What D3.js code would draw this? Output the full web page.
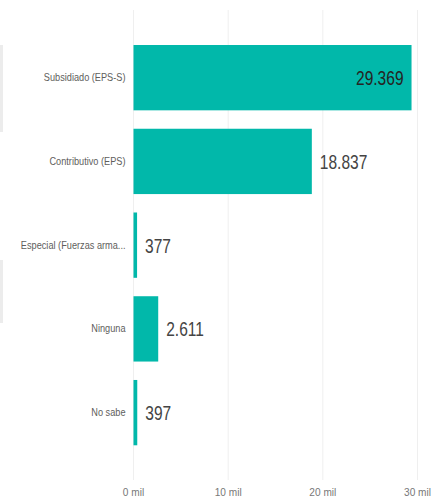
<!DOCTYPE html>
<meta charset="utf-8">
<style>
body { margin: 0; background: #fff; }
text { font-family: "Liberation Sans", Arial, sans-serif; }
</style>
<body>
<script src="https://cdn.jsdelivr.net/npm/d3@7"></script>
<script>

let categories = ['Subsidiado (EPS-S)', 'Contributivo (EPS)', 'Especial (Fuerzas arma...', 'Ninguna', 'No sabe'];
let values = [29369, 18837, 377, 2611, 397];
let ticks = [0, 10000, 20000, 30000];
let tickLabels = ['0 mil', '10 mil', '20 mil', '30 mil'];

let width = 432;
let height = 499;

let svg = d3.select('body').append('svg')
	.attr('width', width)
	.attr('height', height);

// grey slicer edges on the left
svg.append('rect').attr('x', 0).attr('y', 45).attr('width', 3).attr('height', 87).attr('fill', '#ececec');
svg.append('rect').attr('x', 0).attr('y', 260).attr('width', 3).attr('height', 63).attr('fill', '#ececec');

let x = d3.scaleLinear()
	.domain([0, 30000])
	.range([133.5, 417.5]);

let y = d3.scaleBand()
	.domain(categories)
	.range([35.8, 454.5])
	.paddingInner(0.22)
	.paddingOuter(0.11);

// gridlines
svg.selectAll('.grid').data(ticks).enter().append('line')
	.attr('class', 'grid')
	.attr('x1', d => x(d)).attr('x2', d => x(d))
	.attr('y1', 10).attr('y2', 480)
	.attr('stroke', '#efefef')
	.attr('stroke-width', 1);

// tick labels
svg.selectAll('.tick').data(ticks).enter().append('text')
	.attr('class', 'tick')
	.attr('transform', d => 'translate(' + x(d) + ',496) scale(0.92,1)')
	.attr('text-anchor', 'middle')
	.attr('font-size', 11)
	.attr('fill', '#777')
	.text((d, i) => tickLabels[i]);

let rows = categories.map((c, i) => ({ name: c, value: values[i] }));

svg.selectAll('.bar').data(rows).enter().append('rect')
	.attr('class', 'bar')
	.attr('x', x(0))
	.attr('y', d => y(d.name))
	.attr('width', d => Math.max(x(d.value) - x(0), 3))
	.attr('height', y.bandwidth())
	.attr('fill', '#01b8aa');

// category labels
svg.selectAll('.cat').data(rows).enter().append('text')
	.attr('class', 'cat')
	.attr('transform', d => 'translate(' + (x(0) - 8) + ',' + (y(d.name) + y.bandwidth() / 2) + ') scale(0.92,1)')
	.attr('dy', '0.35em')
	.attr('text-anchor', 'end')
	.attr('font-size', 10)
	.attr('fill', '#605e5c')
	.text(d => d.name);

let fmt = d3.formatLocale({ decimal: ',', thousands: '.', grouping: [3], currency: ['', ''] }).format(',d');

// value labels
svg.selectAll('.val').data(rows).enter().append('text')
	.attr('class', 'val')
	.attr('transform', d => {
		let px = d.value > 25000 ? x(d.value) - 8 : x(d.value) + 8;
		return 'translate(' + px + ',' + (y(d.name) + y.bandwidth() / 2) + ') scale(0.74,1)';
	})
	.attr('dy', '0.36em')
	.attr('text-anchor', d => d.value > 25000 ? 'end' : 'start')
	.attr('font-size', 21)
	.attr('fill', d => d.value > 25000 ? '#252423' : '#444')
	.text(d => fmt(d.value));

</script>
</body>
